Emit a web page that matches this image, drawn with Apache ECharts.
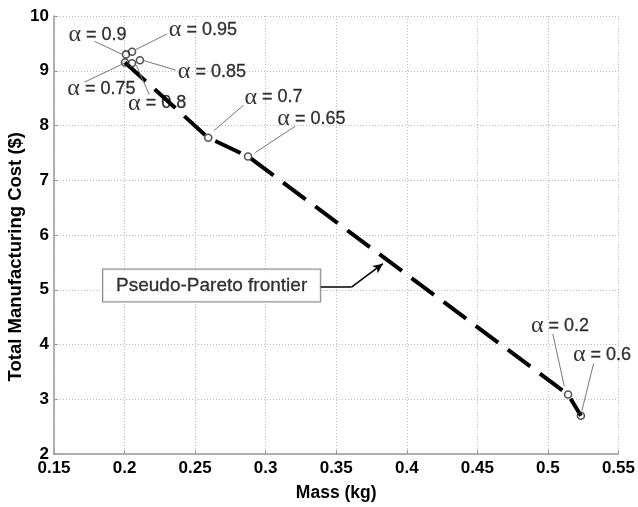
<!DOCTYPE html>
<html>
<head>
<meta charset="utf-8">
<script src="https://cdn.jsdelivr.net/npm/echarts@6/dist/echarts.min.js"></script>
<style>
  html, body { margin: 0; padding: 0; background: #fff; }
  #chart { width: 638px; height: 507px; }
</style>
</head>
<body>
<div id="chart"></div>
<script>
// ---- data ----
const alphaLabels = ['0.9', '0.95', '0.75', '0.8', '0.85', '0.7', '0.65', '0.2', '0.6'];
const massValues  = [0.2010, 0.2053, 0.2003, 0.2053, 0.2109, 0.2593, 0.2875, 0.5143, 0.5234];
const costValues  = [9.299, 9.348, 9.151, 9.138, 9.192, 7.776, 7.435, 3.086, 2.700];

// frontier passes through these alphas, in order of mass
const frontierAlphas = ['0.75', '0.7', '0.65', '0.2', '0.6'];

const xTicks = { min: 0.15, max: 0.55, interval: 0.05 };
const yTicks = { min: 2, max: 10, interval: 1 };

// ---- annotation layout (data coordinates) ----
const labelAnchor = {
  '0.9':  [0.1808, 9.658], '0.95': [0.2555, 9.747], '0.85': [0.2619, 8.977],
  '0.75': [0.1836, 8.672], '0.8':  [0.2231, 8.403], '0.7':  [0.3056, 8.511],
  '0.65': [0.3324, 8.117], '0.2':  [0.5086, 4.335], '0.6':  [0.5383, 3.815]
};
const leaderFrom = {
  '0.9':  [0.1787, 9.538], '0.95': [0.2302, 9.673], '0.85': [0.2363, 9.013],
  '0.75': [0.1716, 8.792], '0.8':  [0.2175, 8.565], '0.7':  [0.2844, 8.373],
  '0.65': [0.3209, 7.986], '0.2':  [0.5035, 4.192], '0.6':  [0.5324, 3.654]
};
const leaderTo = {
  '0.9':  [0.1984, 9.299], '0.95': [0.2081, 9.389], '0.85': [0.2127, 9.192],
  '0.75': [0.1998, 9.138], '0.8':  [0.2083, 9.102], '0.7':  [0.2633, 7.907],
  '0.65': [0.2927, 7.507], '0.2':  [0.5116, 3.237], '0.6':  [0.5241, 2.794]
};
const paretoBox = [0.2617, 5.079];
const paretoPath = [[0.3378, 5.047], [0.3608, 5.047], [0.3831, 5.477]];

// ---- build ----
const pointData = massValues.map((m, i) => [m, costValues[i]]);
const frontierData = frontierAlphas.map(a => pointData[alphaLabels.indexOf(a)]);

const SANS = 'Liberation Sans, Arial, Helvetica, sans-serif';
const SERIF = 'Liberation Serif, Times New Roman, serif';

const labelPoints = alphaLabels.map(a => ({ value: labelAnchor[a], name: a }));
const leaderLines = alphaLabels.map(a => [{ coord: leaderFrom[a] }, { coord: leaderTo[a] }]);
const paretoLines = [
  [{ coord: paretoPath[0], symbol: 'none' }, { coord: paretoPath[1], symbol: 'none' }],
  [{ coord: paretoPath[1], symbol: 'none' }, { coord: paretoPath[2], symbol: 'arrow', symbolSize: [7, 10] }]
];

const chart = echarts.init(document.getElementById('chart'), null, { renderer: 'canvas' });
chart.setOption({
  animation: false,
  backgroundColor: '#fff',
  grid: { left: 54, right: 16, top: 16, bottom: 45, containLabel: false },
  xAxis: {
    type: 'value', min: xTicks.min, max: xTicks.max, interval: xTicks.interval,
    name: 'Mass (kg)', nameLocation: 'middle', nameGap: 30,
    nameTextStyle: { fontFamily: SANS, fontWeight: 'bold', fontSize: 17.5, color: '#000' },
    axisLine: { show: true, onZero: false, lineStyle: { color: '#999', width: 1.5 } },
    axisTick: { show: true, inside: true, length: 4, lineStyle: { color: '#999' } },
    axisLabel: { fontFamily: SANS, fontWeight: 'bold', fontSize: 17, color: '#000', margin: 6,
      formatter: v => String(parseFloat(v.toFixed(2))) },
    splitLine: { show: true, lineStyle: { color: '#bbb', type: [1, 2], width: 1 } }
  },
  yAxis: {
    type: 'value', min: yTicks.min, max: yTicks.max, interval: yTicks.interval,
    axisLine: { show: true, onZero: false, lineStyle: { color: '#999', width: 1.5 } },
    axisTick: { show: true, inside: true, length: 4, lineStyle: { color: '#999' } },
    axisLabel: { fontFamily: SANS, fontWeight: 'bold', fontSize: 17, color: '#000', margin: 5 },
    splitLine: { show: true, lineStyle: { color: '#bbb', type: [1, 2], width: 1 } }
  },
  graphic: [{
    type: 'text', left: 6, top: 132, rotation: Math.PI / 2,
    style: { text: 'Total Manufacturing Cost ($)', fontFamily: SANS, fontWeight: 'bold',
      fontSize: 18.5, fill: '#000' }
  }],
  series: [
    {
      type: 'line', data: frontierData, symbol: 'none', z: 2, silent: true,
      lineStyle: { color: '#000', width: 4, type: [28, 12], cap: 'butt' }
    },
    {
      type: 'scatter', data: pointData, symbol: 'circle', symbolSize: 7, z: 3, silent: true,
      itemStyle: { color: 'rgba(255,255,255,0)', borderColor: '#2a2a2a', borderWidth: 1.6 },
      markLine: {
        silent: true, symbol: ['none', 'none'], animation: false,
        label: { show: false },
        lineStyle: { color: '#777', width: 1, type: 'solid' },
        data: leaderLines
      }
    },
    {
      type: 'scatter', data: labelPoints, symbol: 'circle', symbolSize: 1, z: 4, silent: true,
      itemStyle: { color: 'rgba(0,0,0,0)' },
      label: {
        show: true, position: 'inside', align: 'center', verticalAlign: 'middle',
        formatter: p => '{a|α}{t| = ' + p.name + '}',
        rich: {
          a: { fontFamily: SERIF, fontSize: 24, color: '#000' },
          t: { fontFamily: SANS, fontSize: 18, color: '#000', textBorderColor: '#000', textBorderWidth: 0.3 }
        }
      }
    },
    {
      type: 'scatter', data: [{ value: paretoBox, name: 'Pseudo-Pareto frontier' }],
      symbol: 'circle', symbolSize: 1, z: 5, silent: true,
      itemStyle: { color: 'rgba(0,0,0,0)' },
      label: {
        show: true, position: 'inside', formatter: p => p.name,
        fontFamily: SANS, fontSize: 19, color: '#000', lineHeight: 18,
        textBorderColor: '#000', textBorderWidth: 0.3,
        backgroundColor: '#fff', borderColor: '#666', borderWidth: 1, padding: [7, 13]
      },
      markLine: {
        silent: true, animation: false, label: { show: false },
        lineStyle: { color: '#000', width: 1.5, type: 'solid' },
        data: paretoLines
      }
    }
  ]
});
</script>
</body>
</html>
